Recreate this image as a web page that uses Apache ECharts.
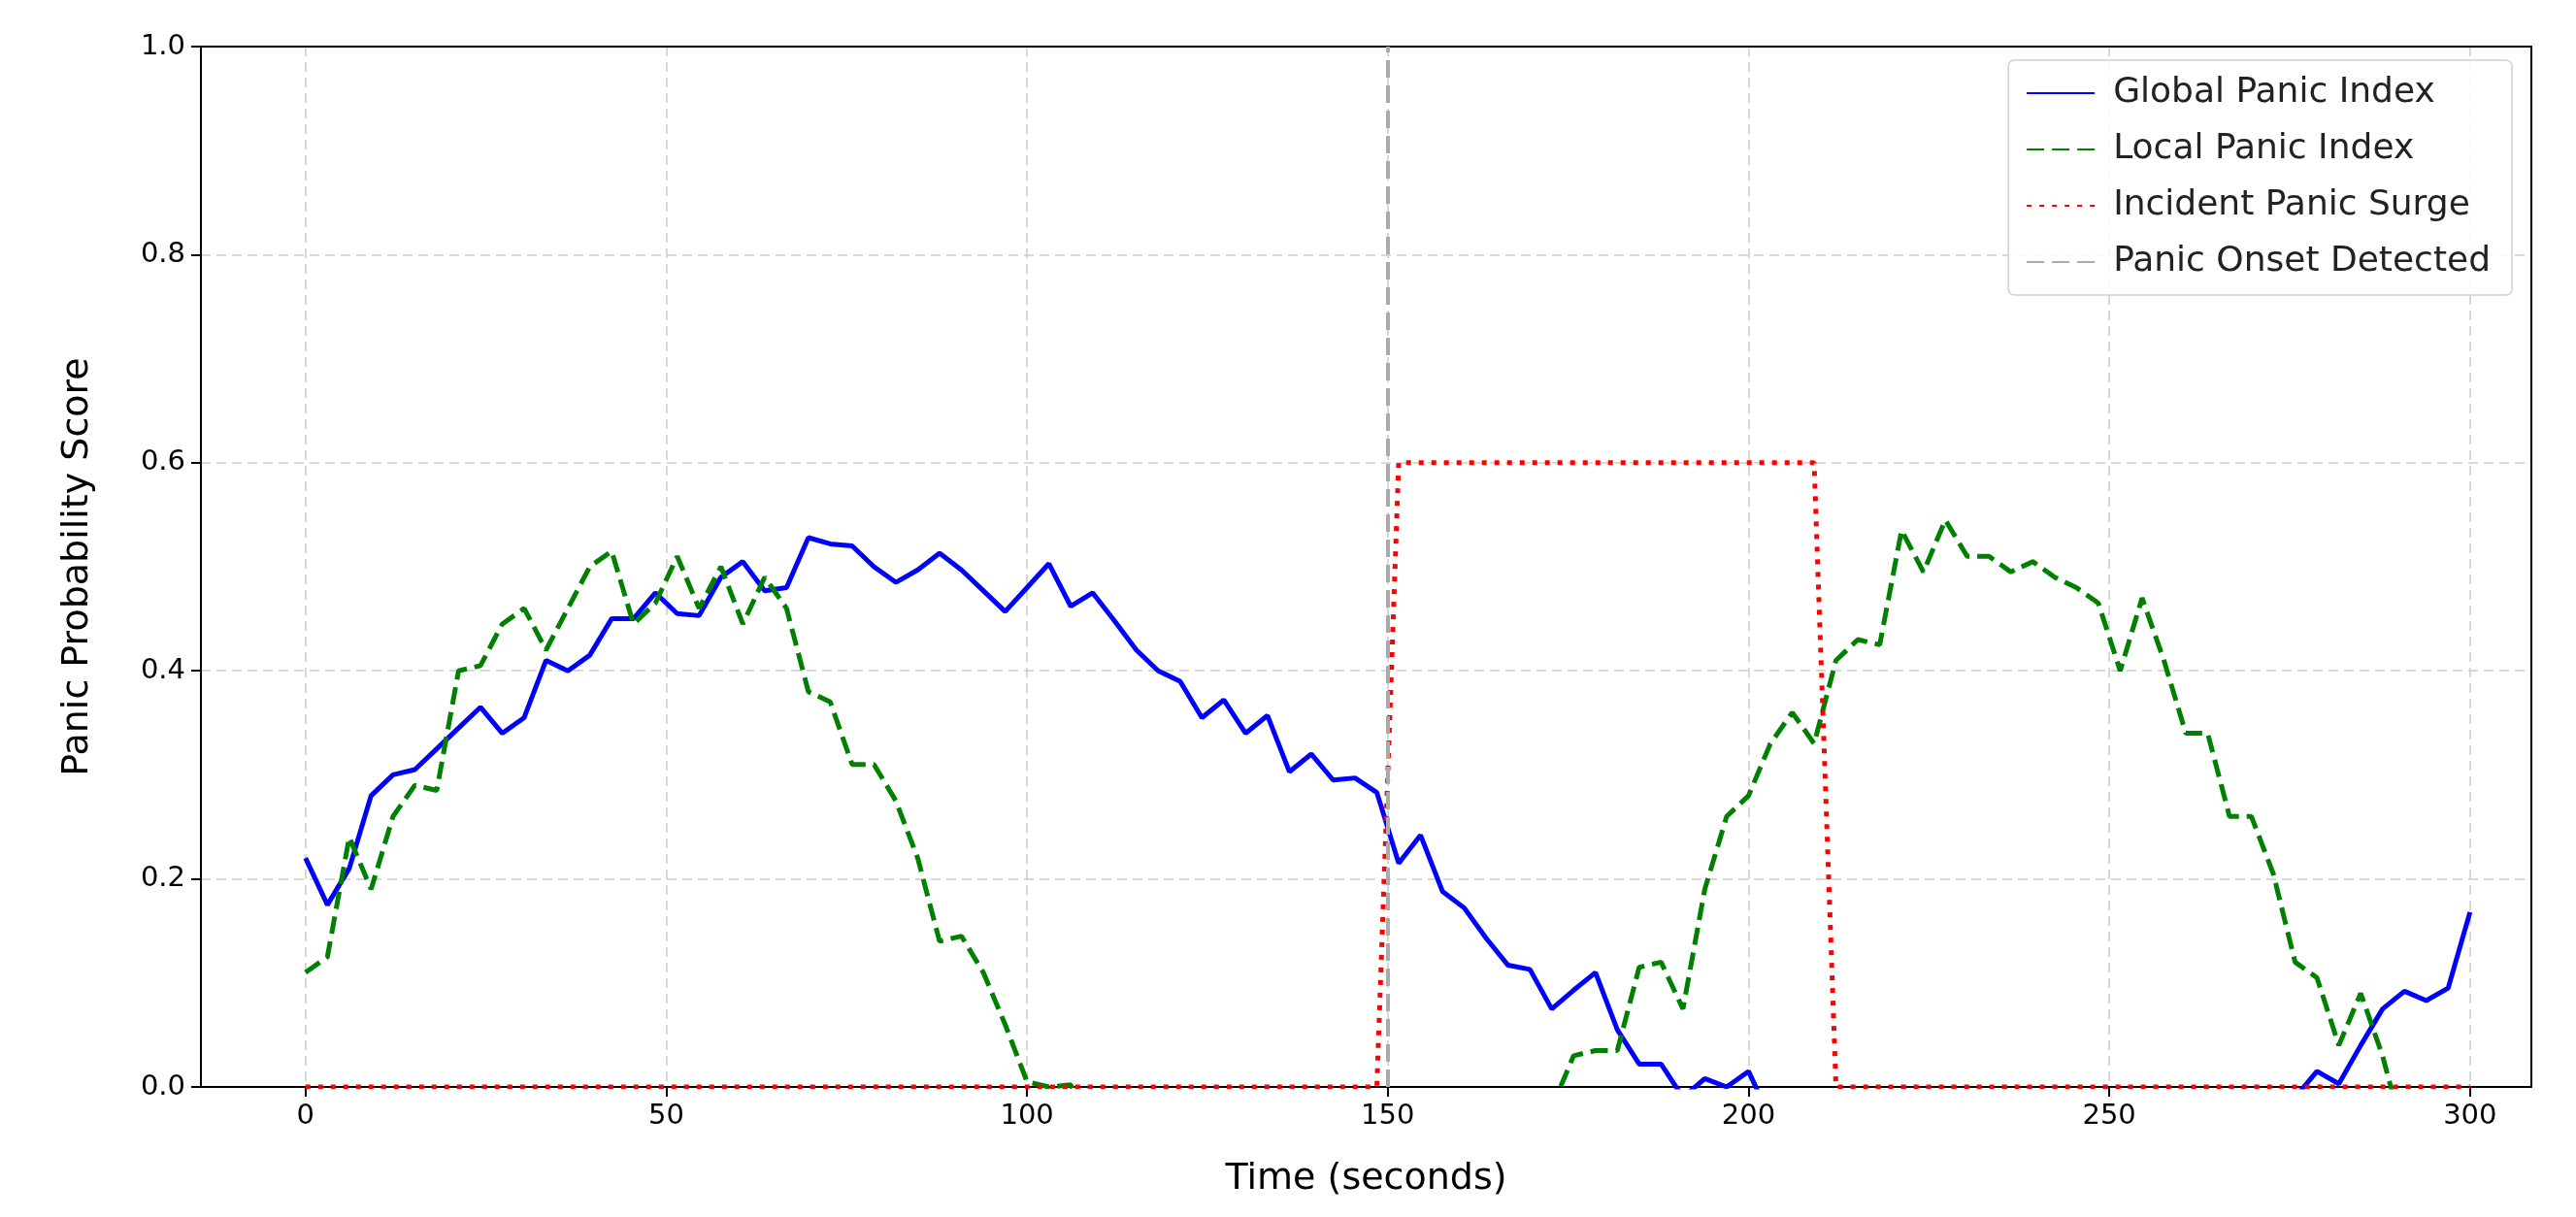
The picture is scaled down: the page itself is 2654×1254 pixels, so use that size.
<!DOCTYPE html>
<html><head><meta charset="utf-8">
<script src="https://cdn.jsdelivr.net/npm/echarts@6/dist/echarts.min.js"></script>
<style>html,body{margin:0;padding:0;background:#fff}#c{width:2654px;height:1254px}</style>
</head><body><div id="c"></div>
<script>
const N = 100;
const times = Array.from({length: N}, (_, i) => i * 300 / (N - 1));
const xTicks = [0, 50, 100, 150, 200, 250, 300];
const yTicks = [0, 0.2, 0.4, 0.6, 0.8, 1.0];
const globalPanic = [0.22,0.175,0.21,0.28,0.30,0.305,0.325,0.345,0.365,0.34,0.355,0.41,0.40,0.415,0.45,0.45,0.475,0.455,0.453,0.49,0.505,0.477,0.48,0.528,0.522,0.52,0.50,0.485,0.497,0.513,0.497,0.477,0.457,0.48,0.503,0.462,0.475,0.448,0.42,0.40,0.39,0.355,0.372,0.34,0.357,0.303,0.32,0.295,0.297,0.283,0.215,0.242,0.188,0.172,0.143,0.117,0.113,0.075,0.093,0.11,0.055,0.022,0.022,-0.01,0.008,0.0,0.015,
 -0.03,-0.05,-0.08,-0.1,-0.12,-0.14,-0.15,-0.17,-0.18,-0.2,-0.2,-0.21,-0.2,-0.19,-0.18,-0.17,-0.15,-0.13,-0.12,-0.1,-0.08,-0.06,-0.04,-0.03,-0.01,
 0.015,0.003,0.04,0.075,0.092,0.083,0.095,0.168];
const localPanic = [0.11,0.125,0.24,0.19,0.26,0.29,0.285,0.40,0.405,0.445,0.46,0.42,0.46,0.50,0.515,0.445,0.465,0.51,0.46,0.50,0.445,0.49,0.46,0.38,0.37,0.31,0.31,0.275,0.22,0.14,0.145,0.11,0.06,0.005,0.0,0.002,
 -0.05,-0.1,-0.15,-0.2,-0.24,-0.27,-0.3,-0.32,-0.33,-0.34,-0.34,-0.33,-0.32,-0.3,-0.28,-0.25,-0.22,-0.18,-0.14,-0.1,-0.06,-0.02,
 0.03,0.035,0.035,0.115,0.12,0.075,0.19,0.26,0.28,0.33,0.36,0.33,0.41,0.43,0.425,0.535,0.495,0.545,0.51,0.51,0.495,0.505,0.49,0.48,0.465,0.40,0.47,0.41,0.34,0.34,0.26,0.26,0.205,0.12,0.105,0.04,0.09,0.03,-0.05,
 -0.1,-0.15,-0.2];
const surge = [];
for (let i = 0; i < N; i++) surge.push(i >= 50 && i <= 69 ? 0.6 : 0);
const onset = 150;

const pair = arr => arr.map((v, i) => [times[i], v]);
const font = 'DejaVu Sans';
const chart = echarts.init(document.getElementById('c'));
const gridLine = {show: true, lineStyle: {color: '#cccccc', type: [10, 6], width: 1.5}};
const frame = {show: true, onZero: false, lineStyle: {color: '#000', width: 2}};
chart.setOption({
  animation: false,
  textStyle: {fontFamily: font},
  grid: {left: 207, right: 46, top: 48, bottom: 134},
  xAxis: [{type: 'value', min: -14.5, max: 308.5,
    name: 'Time (seconds)', nameLocation: 'middle', nameGap: 76,
    nameTextStyle: {fontSize: 38, color: '#000', fontFamily: font},
    axisLine: frame,
    axisTick: {show: true, length: 10, customValues: xTicks, lineStyle: {color: '#000', width: 2}},
    axisLabel: {customValues: xTicks, fontSize: 29, color: '#000', margin: 16, fontFamily: font},
    splitLine: gridLine},
    {type: 'value', position: 'top', min: -14.5, max: 308.5, axisLine: frame, axisTick: {show: false}, axisLabel: {show: false}, splitLine: {show: false}}],
  yAxis: [{type: 'value', min: 0, max: 1, interval: 0.2,
    name: 'Panic Probability Score', nameLocation: 'middle', nameGap: 108,
    nameTextStyle: {fontSize: 38, color: '#000', fontFamily: font},
    axisLine: frame,
    axisTick: {show: true, length: 10, lineStyle: {color: '#000', width: 2}},
    axisLabel: {fontSize: 29, color: '#000', margin: 16, fontFamily: font, formatter: v => v.toFixed(1)},
    splitLine: gridLine},
    {type: 'value', position: 'right', min: 0, max: 1, axisLine: frame, axisTick: {show: false}, axisLabel: {show: false}, splitLine: {show: false}}],
  legend: {right: 66, top: 62, orient: 'vertical', itemGap: 22, itemWidth: 70, itemHeight: 14,
    itemStyle: {opacity: 0},
    backgroundColor: 'rgba(255,255,255,0.85)', borderColor: '#d0d0d0', borderWidth: 1.5, borderRadius: 6, padding: [16, 22, 16, 18],
    textStyle: {fontSize: 36, color: '#222', fontFamily: font, padding: [0, 0, 0, 14]},
    data: ['Global Panic Index', 'Local Panic Index', 'Incident Panic Surge', 'Panic Onset Detected']},
  series: [
    {name: 'Global Panic Index', type: 'line', data: pair(globalPanic), symbol: 'none', clip: true,
     lineStyle: {color: '#0000ff', width: 5}, itemStyle: {color: '#0000ff'}},
    {name: 'Local Panic Index', type: 'line', data: pair(localPanic), symbol: 'none', clip: true,
     lineStyle: {color: '#008000', width: 5, type: [18, 8]}, itemStyle: {color: '#008000'}},
    {name: 'Incident Panic Surge', type: 'line', data: pair(surge), symbol: 'none', clip: true,
     lineStyle: {color: '#ff0000', width: 5, type: [5, 8]}, itemStyle: {color: '#ff0000'}},
    {name: 'Panic Onset Detected', type: 'line', data: [], symbol: 'none',
     lineStyle: {color: '#aaaaaa', width: 4, type: [18, 8]}, itemStyle: {color: '#aaaaaa'},
     markLine: {silent: true, symbol: 'none', label: {show: false},
       lineStyle: {color: '#aaaaaa', width: 4, type: [18, 8]}, data: [{xAxis: onset}]}}
  ]
});
</script></body></html>
